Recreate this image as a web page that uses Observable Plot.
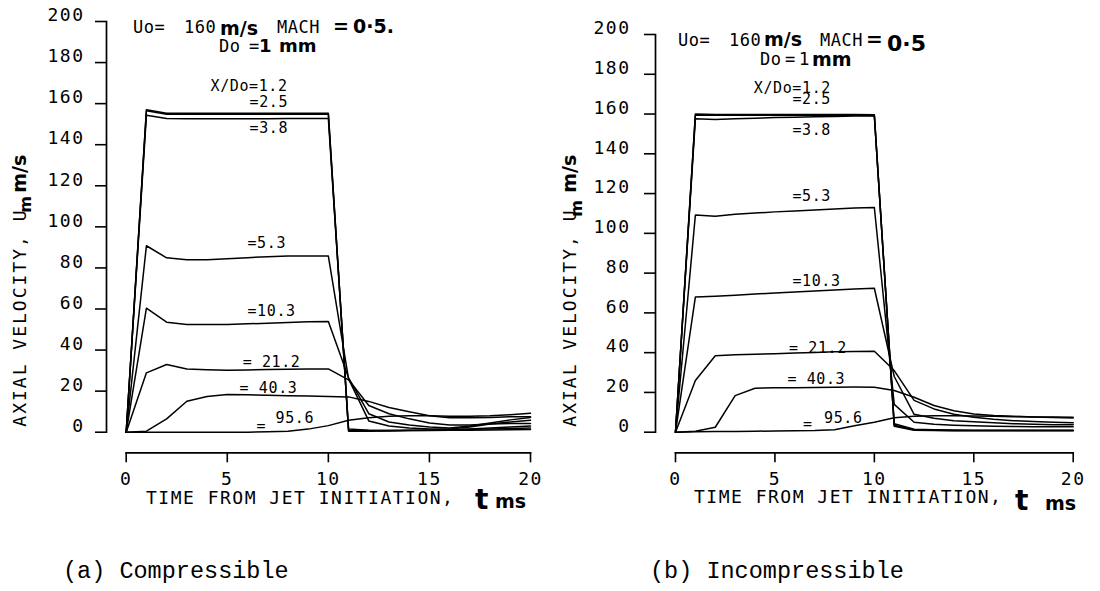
<!DOCTYPE html>
<html><head><meta charset="utf-8">
<script src="https://cdn.jsdelivr.net/npm/d3@7"></script>
<script src="https://cdn.jsdelivr.net/npm/@observablehq/plot@0.6"></script>
<style>
body{margin:0;background:#fff;}
#wrap{position:relative;width:1100px;height:591px;overflow:hidden;background:#fff;}
.panel{position:absolute;top:0;width:550px;height:591px;}
g[aria-label$="tick label"] text{letter-spacing:1.5px;}
.lbl text{letter-spacing:0.6px;}
</style></head><body>
<div id="wrap"><div class="panel" id="pa" style="left:0"></div><div class="panel" id="pb" style="left:550px"></div></div>
<script>
// ---- data ----
const times = [0,1,2,3,4,5,6,7,8,9,10,11,12,13,14,15,16,17,18,19,20];
const stations = ["1.2","2.5","3.8","5.3","10.3","21.2","40.3","95.6"];
const xDomain = [0, 20];
const yDomain = [0, 200];
const xTicks = [0, 5, 10, 15, 20];
const yTicks = [0, 20, 40, 60, 80, 100, 120, 140, 160, 180, 200];

// (a) compressible
const comp12  = [0,157,155.3,155.3,155.3,155.3,155.3,155.3,155.3,155.3,155.3,0.5,0.5,0.6,0.8,1.0,1.2,1.5,2.0,2.5,3.0];
const comp25  = [0,156.5,154.8,154.8,154.8,154.8,154.8,154.8,154.8,154.8,154.8,1.0,0.8,0.8,0.9,1.0,1.2,1.4,1.6,1.8,2.0];
const comp38  = [0,154.3,152.8,152.6,152.6,152.6,152.7,152.7,152.8,152.8,152.8,1.5,1.0,0.8,0.8,0.8,0.9,1.0,1.1,1.2,1.3];
const comp53  = [0,90.8,84.9,84.0,84.0,84.5,85.0,85.5,85.8,85.8,85.8,26.0,5.5,3.0,2.0,1.5,1.5,2.5,4.0,5.0,5.8];
const comp103 = [0,60.4,53.6,52.4,52.4,52.5,52.8,53.0,53.4,53.8,53.9,26.5,9.0,5.0,3.5,2.5,2.0,3.0,4.5,6.0,7.2];
const comp212 = [0,28.9,33.0,30.8,30.4,30.2,30.3,30.5,30.7,30.8,30.8,25.5,13.0,9.0,6.5,4.5,3.5,3.5,4.0,4.2,4.2];
const comp403 = [0,0.5,6.5,15.1,17.4,18.3,18.2,18.0,17.8,17.6,17.4,17.2,15.0,12.0,10.0,8.0,7.0,7.0,7.2,7.5,7.5];
const comp956 = [0,0,0,0,0,0,0,0.2,0.5,1.5,3.2,5.8,7.0,7.8,8.0,8.0,7.8,7.8,8.0,8.5,9.2];

// (b) incompressible
const inc12  = [0,160,159.8,159.8,159.8,159.8,159.8,159.8,159.8,159.8,159.6,3.0,1.0,0.8,0.7,0.7,0.7,0.7,0.7,0.7,0.7];
const inc25  = [0,159.4,159.4,159.4,159.4,159.4,159.4,159.4,159.4,159.4,159.3,3.5,1.2,1.0,0.9,0.9,0.9,0.9,0.9,0.9,0.9];
const inc38  = [0,157.6,157.3,157.6,157.9,158.2,158.4,158.6,158.8,159.0,159.0,4.2,1.5,1.2,1.1,1.0,1.0,1.0,1.0,1.0,1.0];
const inc53  = [0,109.2,108.6,109.6,110.2,110.8,111.3,111.8,112.3,112.8,113.0,14.0,5.0,4.0,3.5,3.2,3.0,2.9,2.8,2.8,2.7];
const inc103 = [0,68.0,68.4,68.9,69.5,70.0,70.5,71.0,71.5,72.0,72.4,28.0,9.0,7.0,5.8,5.2,4.7,4.3,4.0,3.8,3.7];
const inc212 = [0,26.0,38.4,38.9,39.2,39.5,39.8,40.1,40.4,40.6,40.7,31.0,16.0,11.7,9.0,7.5,6.5,5.8,5.4,5.0,4.7];
const inc403 = [0,0.5,2.5,18.4,22.1,22.3,22.4,22.5,22.6,22.7,22.6,21.0,17.6,13.4,10.8,9.2,8.4,8.0,7.7,7.6,7.5];
const inc956 = [0,0.2,0.3,0.4,0.5,0.6,0.7,0.8,1.2,3.2,5.0,7.3,8.0,8.3,8.3,8.2,8.0,7.8,7.6,7.4,7.2];

// curve labels (text, position in ms and m/s)
const labTextsA = ["X/Do=1.2","=2.5","=3.8","=5.3","=10.3","= 21.2","= 40.3","=","95.6"];
const labTA     = [4.17, 6.10, 6.10, 6.0, 6.0, 5.76, 5.61, 6.45, 7.39];
const labVA     = [168.6, 160.6, 147.9, 92.2, 58.8, 34.0, 21.3, 3.0, 6.7];
const labTextsB = ["X/Do=1.2","=2.5","=3.8","=5.3","=10.3","= 21.2","= 40.3","=","95.6"];
const labTB     = [3.94, 5.88, 5.88, 5.88, 5.88, 5.71, 5.63, 6.41, 7.47];
const labVB     = [173.1, 167.3, 151.9, 118.5, 75.8, 42.3, 26.5, 3.9, 6.9];

const MONO = "'DejaVu Sans Mono', monospace";
const SANS = "'DejaVu Sans', sans-serif";

function addText(sel, x, y, parts, transform) {
  const t = sel.append("text").attr("x", x).attr("y", y).attr("fill", "black").attr("text-anchor", "start");
  if (transform) t.attr("transform", transform);
  for (const p of parts) {
    const s = t.append("tspan").text(p.s)
      .attr("font-family", p.f || MONO)
      .attr("font-size", p.size || 17)
      .attr("font-weight", p.w || "normal")
      .style("letter-spacing", (p.ls != null ? p.ls : 0.5) + "px");
    if (p.x != null) s.attr("x", p.x);
    if (p.y != null) s.attr("y", p.y);
    if (p.dy != null) s.attr("dy", p.dy);
  }
  return t;
}

function panel(cfg) {
  const rows = [];
  cfg.series.forEach((vals, i) => vals.forEach((v, j) => rows.push({station: stations[i], t: times[j], v})));
  const labels = cfg.labTexts.map((s, i) => ({text: s, t: cfg.labT[i], v: cfg.labV[i]}));
  const H = 591;
  const insetB = cfg.xAxisY - cfg.y0;
  const svg = Plot.plot({
    width: 550, height: H,
    marginLeft: cfg.ml, marginRight: cfg.mr, marginTop: cfg.mt, marginBottom: H - cfg.xAxisY,
    x: {domain: xDomain, insetLeft: cfg.insetLeft},
    y: {domain: yDomain, insetBottom: insetB},
    style: {fontFamily: MONO, fontSize: "18px", background: "white", color: "black", overflow: "visible"},
    marks: [
      Plot.frame({anchor: "left", insetBottom: insetB, strokeWidth: 1.7}),
      Plot.frame({anchor: "bottom", insetLeft: cfg.insetLeft, strokeWidth: 1.7}),
      Plot.axisY({ticks: yTicks, tickSize: 11, fill: "none", strokeWidth: 1.6, label: null}),
      Plot.axisY({ticks: yTicks, tickSize: 11, tickPadding: cfg.ytp, stroke: "none", dy: -6, label: null, fontSize: 18}),
      Plot.axisX({ticks: xTicks, tickSize: 10, tickPadding: 9, strokeWidth: 1.6, label: null, fontSize: 18}),
      Plot.line(rows, {x: "t", y: "v", z: "station", stroke: "black", strokeWidth: 1.5}),
      Plot.text(labels, {x: "t", y: "v", text: "text", textAnchor: "start", fontSize: 15, fontFamily: MONO, className: "lbl"})
    ]
  });
  const sel = d3.select(svg);
  cfg.extra(sel);
  return svg;
}

document.getElementById("pa").appendChild(panel({
  series: [comp12, comp25, comp38, comp53, comp103, comp212, comp403, comp956],
  labTexts: labTextsA, labT: labTA, labV: labVA,
  ml: 106, mr: 20, mt: 21, xAxisY: 452.3, y0: 431.7, insetLeft: 19.7, ytp: 11,
  extra: (sel) => {
    addText(sel, 133, 33, [
      {s: "Uo=", x: 133}, {s: "160", x: 184},
      {s: "m/s", x: 220, f: SANS, w: "bold", size: 19, ls: 0, y: 35},
      {s: "MACH", x: 277, y: 33}, {s: "=", x: 333, f: SANS, w: "bold", size: 19, ls: 0},
      {s: "0·5.", x: 353, f: SANS, w: "bold", size: 19, ls: 0}
    ]);
    addText(sel, 219, 52, [
      {s: "Do", x: 219}, {s: "=", x: 249}, {s: "1", x: 259, f: SANS, w: "bold", size: 18, ls: 0},
      {s: "mm", x: 279, f: SANS, w: "bold", size: 18, ls: 0}
    ]);
    addText(sel, 146, 504, [
      {s: "TIME FROM JET INITIATION,", size: 18, ls: 1.5},
      {s: "t", x: 475, y: 509, f: SANS, w: "bold", size: 28, ls: 0},
      {s: "ms", x: 495, y: 508, f: SANS, w: "bold", size: 19, ls: 0}
    ]);
    addText(sel, 0, 0, [
      {s: "AXIAL VELOCITY, U", size: 18, ls: 2},
      {s: "m", x: 214, dy: 5, f: SANS, w: "bold", size: 16, ls: 0},
      {s: "m/s", x: 234, dy: -5, f: SANS, w: "bold", size: 19, ls: 0}
    ], "translate(26,426.7) rotate(-90)");
    addText(sel, 63, 578, [{s: "(a) Compressible", f: "'Liberation Mono', monospace", size: 23.5, ls: 0}]);
  }
}));

document.getElementById("pb").appendChild(panel({
  series: [inc12, inc25, inc38, inc53, inc103, inc212, inc403, inc956],
  labTexts: labTextsB, labT: labTB, labV: labVB,
  ml: 105, mr: 27.3, mt: 34, xAxisY: 452.3, y0: 431.7, insetLeft: 20, ytp: 14,
  extra: (sel) => {
    addText(sel, 128, 46, [
      {s: "Uo=", x: 128}, {s: "160", x: 179},
      {s: "m/s", x: 214, f: SANS, w: "bold", size: 19, ls: 0},
      {s: "MACH", x: 270}, {s: "=", x: 316, f: SANS, w: "bold", size: 20, ls: 0},
      {s: "0·5", x: 337, y: 51, f: SANS, w: "bold", size: 22, ls: 0}
    ]);
    addText(sel, 210, 65, [
      {s: "Do", x: 210}, {s: "=", x: 235}, {s: "1", x: 249, f: SANS, size: 17, ls: 0},
      {s: "mm", x: 262, y: 66, f: SANS, w: "bold", size: 19, ls: 0}
    ]);
    addText(sel, 144, 503, [
      {s: "TIME FROM JET INITIATION,", size: 18, ls: 1.5},
      {s: "t", x: 465, y: 510, f: SANS, w: "bold", size: 28, ls: 0},
      {s: "ms", x: 495, y: 510, f: SANS, w: "bold", size: 19, ls: 0}
    ]);
    addText(sel, 0, 0, [
      {s: "AXIAL VELOCITY, U", size: 18, ls: 2},
      {s: "m", x: 210, dy: 6, f: SANS, w: "bold", size: 16, ls: 0},
      {s: "m/s", x: 234, dy: -6, f: SANS, w: "bold", size: 19, ls: 0}
    ], "translate(26,426.7) rotate(-90)");
    addText(sel, 100, 578, [{s: "(b) Incompressible", f: "'Liberation Mono', monospace", size: 23.5, ls: 0}]);
  }
}));
</script>
</body></html>
